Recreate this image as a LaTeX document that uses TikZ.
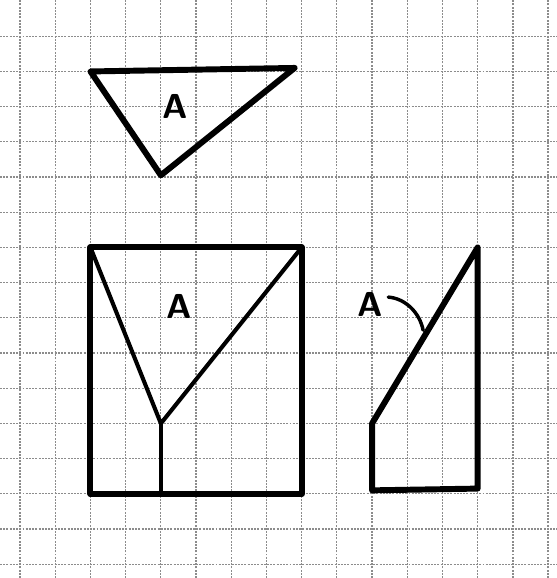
\documentclass[tikz,border=0pt]{standalone}
\usepackage{tikz}

\tikzset{
    gridline/.style={black!45, line width=1pt, dash pattern=on 1.6pt off 1pt},
    edge/.style={black, line width=4.8pt, line join=round, line cap=round},
    thinedge/.style={black, line width=3.3pt, line cap=round},
    lab/.style={font=\sffamily\bfseries\fontsize{28}{28}\selectfont, inner sep=0pt}
}

\begin{document}
\begin{tikzpicture}[x=1cm, y=1cm]
    % --- 画布范围 ---
    \def\xmin{-0.57}
    \def\xmax{15.24}
    \def\ymin{-16.39}
    \def\ymax{0.03}
    \useasboundingbox (\xmin, \ymin) rectangle (\xmax, \ymax);
    \fill[white] (\xmin, \ymin) rectangle (\xmax, \ymax);

    % --- 方格纸 ---
    \foreach \i in {0,...,15} {
        \draw[gridline] (\i, \ymin) -- (\i, \ymax);
    }
    \foreach \j in {1,...,16} {
        \draw[gridline] (\xmin, -\j) -- (\xmax, -\j);
    }

    % --- 上方三角形 A ---
    \coordinate (tl) at (2, -2);
    \coordinate (tr) at (7.8, -1.9);
    \coordinate (tb) at (4, -4.95);
    \draw[edge] (tl) -- (tr) -- (tb) -- cycle;
    \node[lab] (labTop) at (4.42, -3.0) {A};

    % --- 正方形 ---
    \coordinate (sqA) at (2, -7);
    \coordinate (sqB) at (8, -7);
    \coordinate (sqC) at (8, -14);
    \coordinate (sqD) at (2, -14);
    \coordinate (sqV) at (4, -12);
    \coordinate (sqM) at (4, -14);
    \draw[edge] (sqA) -- (sqB) -- (sqC) -- (sqD) -- cycle;
    % 内部 Y 形
    \draw[thinedge] (sqA) -- (sqV) -- (sqB);
    \draw[thinedge] (sqV) -- (sqM);
    \node[lab] (labSq) at (4.52, -8.69) {A};

    % --- 右侧梯形 ---
    \coordinate (rTop) at (13, -7);
    \coordinate (rMid) at (10, -12);
    \coordinate (rBl) at (10, -13.9);
    \coordinate (rBr) at (13, -13.85);
    \draw[edge] (rTop) -- (rMid) -- (rBl) -- (rBr) -- cycle;
    \node[lab] (labRight) at (9.94, -8.61) {A};

    % 指示线
    \coordinate (leadS) at (10.46, -8.41);
    \coordinate (leadE) at (11.45, -9.35);
    \draw[thinedge, line width=2.8pt] (leadS) .. controls (10.95, -8.45) and (11.35, -8.85) .. (leadE);

\end{tikzpicture}
\end{document}
